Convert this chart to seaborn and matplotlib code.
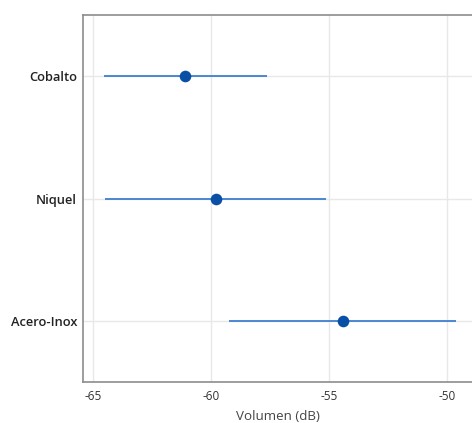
import pandas as pd
import seaborn as sns
import matplotlib.pyplot as plt

# ===============================
# DATA
# ===============================
materials = ["Cobalto", "Niquel", "Acero-Inox"]
means = [-61.09, -59.79, -54.42]
lower = [-64.52, -64.48, -59.22]
upper = [-57.64, -55.13, -49.62]
x_ticks = [-65, -60, -55, -50]

df = pd.DataFrame({"Material": materials, "Media": means,
                   "Inf": lower, "Sup": upper})
df["pos"] = range(len(df))

# ===============================
# STYLE
# ===============================
sns.set_theme(style="white")
plt.rcParams["font.family"] = ["Open Sans", "DejaVu Sans"]

fig = plt.figure(figsize=(4.72, 4.23), dpi=100)
ax = fig.add_axes([0.1765, 0.0969, 0.8235, 0.8669])

line_col = "#3d7fd0"
point_col = "#0a4fa6"

ax.hlines(df["pos"], df["Inf"], df["Sup"], color=line_col, lw=1.3, zorder=2)
sns.scatterplot(data=df, x="Media", y="pos", ax=ax, color=point_col,
                s=70, edgecolor=point_col, linewidth=0, zorder=3)

ax.set_xlim(-65.41, -48.94)
ax.set_ylim(2.5, -0.5)
ax.set_xticks(x_ticks)
ax.set_xticklabels([str(t) for t in x_ticks])
ax.set_yticks(df["pos"])
ax.set_yticklabels(df["Material"], fontweight="semibold", fontsize=9.3)

ax.grid(True, color="#e8e8e8", lw=1, zorder=0)
ax.set_axisbelow(True)

for side in ["left", "bottom", "top"]:
    ax.spines[side].set_color("#8c8c8c")
    ax.spines[side].set_linewidth(1.2)
ax.spines["right"].set_visible(False)

ax.tick_params(axis="both", which="major", length=4, width=1,
               color="#8c8c8c", labelsize=8.5, labelcolor="#222222", pad=2)
ax.tick_params(axis="x", labelcolor="#333333")
ax.tick_params(axis="y", labelsize=9.3, pad=0.5)

ax.set_xlabel("Volumen (dB)", fontsize=9.6, color="#444444", labelpad=5)
ax.set_ylabel("")

fig.savefig("out.png", dpi=100)
